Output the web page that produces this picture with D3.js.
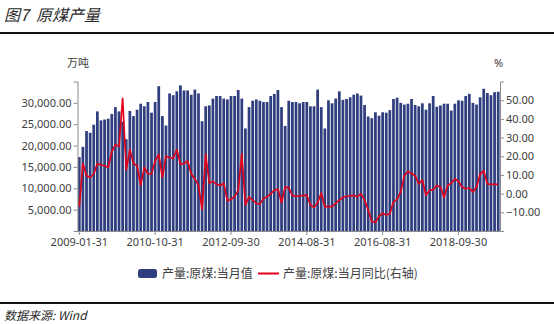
<!DOCTYPE html>
<html><head><meta charset="utf-8">
<script src="https://cdn.jsdelivr.net/npm/d3@7/dist/d3.min.js"></script>
<style>
html,body{margin:0;padding:0;background:#fff;}
svg{display:block;font-family:"Noto Sans","Noto Sans CJK SC",sans-serif;}
</style></head>
<body><svg id="c" width="554" height="324"></svg>
<script>
const dates = [
"2009-01-31","2009-02-28","2009-03-31","2009-04-30","2009-05-31","2009-06-30","2009-07-31","2009-08-31","2009-09-30","2009-10-31","2009-11-30","2009-12-31",
"2010-01-31","2010-02-28","2010-03-31","2010-04-30","2010-05-31","2010-06-30","2010-07-31","2010-08-31","2010-09-30","2010-10-31","2010-11-30","2010-12-31",
"2011-02-28","2011-03-31","2011-04-30","2011-05-31","2011-06-30","2011-07-31","2011-08-31","2011-09-30","2011-10-31","2011-11-30","2011-12-31",
"2012-02-29","2012-03-31","2012-04-30","2012-05-31","2012-06-30","2012-07-31","2012-08-31","2012-09-30","2012-10-31","2012-11-30","2012-12-31",
"2013-02-28","2013-03-31","2013-04-30","2013-05-31","2013-06-30","2013-07-31","2013-08-31","2013-09-30","2013-10-31","2013-11-30","2013-12-31",
"2014-02-28","2014-03-31","2014-04-30","2014-05-31","2014-06-30","2014-07-31","2014-08-31","2014-09-30","2014-10-31","2014-11-30","2014-12-31",
"2015-02-28","2015-03-31","2015-04-30","2015-05-31","2015-06-30","2015-07-31","2015-08-31","2015-09-30","2015-10-31","2015-11-30","2015-12-31",
"2016-03-31","2016-04-30","2016-05-31","2016-06-30","2016-07-31","2016-08-31","2016-09-30","2016-10-31","2016-11-30","2016-12-31",
"2017-03-31","2017-04-30","2017-05-31","2017-06-30","2017-07-31","2017-08-31","2017-09-30","2017-10-31","2017-11-30","2017-12-31",
"2018-03-31","2018-04-30","2018-05-31","2018-06-30","2018-07-31","2018-08-31","2018-09-30","2018-10-31","2018-11-30","2018-12-31",
"2019-03-31","2019-04-30","2019-05-31","2019-06-30","2019-07-31","2019-08-31","2019-09-30","2019-10-31"
];
const output = [
17300,19700,23400,23000,24900,28000,25900,26100,26300,27400,29000,28000,
25600,21500,28100,26900,28400,29800,29200,30200,27700,30200,33900,26900,
24700,32200,31800,32700,34100,32900,32900,31900,33100,32200,25700,
29200,29400,31000,31600,31600,31000,30800,31600,31600,33000,31000,
24000,29000,30500,30800,30500,30200,30200,31600,32100,33000,29000,
24600,30500,30200,30200,29900,30200,30200,29200,29200,33100,29000,
24000,30600,29900,31000,32700,30700,30900,31300,31900,32200,31700,
29500,26800,26400,27800,27000,27800,27700,28300,30900,31200,
30000,29600,29800,30900,29500,29200,29900,28400,29900,31600,
29100,29400,29800,29800,28200,29800,30600,30500,31600,32100,
30000,29600,31300,33300,32300,31800,32500,32600
];
const yoy = [
-7.0,16.1,9.6,8.7,10.5,16.1,15.4,14.9,14.0,22.4,26.2,25.3,
51.0,12.6,23.6,16.1,14.9,4.4,14.0,10.5,10.5,17.5,21.0,8.7,
20.1,19.2,18.9,23.6,15.7,16.1,17.5,10.5,7.9,4.4,-8.4,
21.0,5.6,6.6,4.9,4.4,5.6,-3.8,-3.1,-1.7,1.7,21.3,
-6.1,-1.7,-3.5,-5.2,-5.6,-2.6,-1.7,0.0,1.7,2.6,-4.9,
3.5,3.1,-0.9,-1.4,-1.2,-0.9,-0.9,-6.1,-7.3,-4.9,0.3,
-7.0,-7.0,-7.0,-5.2,-3.5,-2.1,-1.4,-1.2,-0.9,-1.7,0.0,
-3.5,-8.7,-14.9,-15.4,-12.2,-10.5,-11.4,-10.8,-4.4,-3.1,
0.9,9.6,11.9,10.8,9.6,5.2,7.3,-0.9,1.7,2.1,
4.4,3.5,-2.0,4.4,5.6,7.9,6.6,3.5,2.6,3.0,
0.9,3.5,10.5,12.2,5.2,4.9,4.9,4.9
];
const leftTicks = [5000,10000,15000,20000,25000,30000];
const rightTicks = [-10,0,10,20,30,40,50];
const xTickLabels = ["2009-01-31","2010-10-31","2012-09-30","2014-08-31","2016-08-31","2018-09-30"];
const legendLabels = ["产量:原煤:当月值","产量:原煤:当月同比(右轴)"];

const svg = d3.select("#c");
const barColor = "#2f3e7e", lineColor = "#e2001a", axisColor = "#8c8c8c", textColor = "#404040";

const x = d3.scaleBand().domain(dates).range([77.5, 500]).paddingInner(0.24).paddingOuter(0.12);
const yL = d3.scaleLinear().domain([0, 35000]).range([231, 81.5]);
const yR = d3.scaleLinear().domain([-20, 60]).range([231, 81.5]);

// title
svg.append("text").attr("x", 4).attr("y", 21).attr("font-size", 16).attr("font-style", "italic")
  .attr("font-family", "'Noto Sans CJK SC'").attr("fill", "#2a2a2a").text("图7\u00a0\u00a0原煤产量");
svg.append("line").attr("x1", 0).attr("x2", 554).attr("y1", 33).attr("y2", 33).attr("stroke", "#111").attr("stroke-width", 2);
svg.append("line").attr("x1", 0).attr("x2", 554).attr("y1", 303).attr("y2", 303).attr("stroke", "#111").attr("stroke-width", 2);
svg.append("text").attr("x", 4).attr("y", 320).attr("font-size", 12).attr("font-style", "italic")
  .attr("font-family", "'Noto Sans CJK SC'").attr("fill", "#2a2a2a").text("数据来源:\u00a0Wind");

// unit labels
svg.append("text").attr("x", 67).attr("y", 67).attr("font-size", 11).attr("fill", textColor)
  .attr("font-family", "'Noto Sans CJK SC'").text("万吨");
svg.append("text").attr("x", 494).attr("y", 67).attr("font-size", 11).attr("fill", textColor).text("%");

// bars
svg.append("g").selectAll("rect").data(output).join("rect")
  .attr("x", (d, i) => x(dates[i]))
  .attr("width", x.bandwidth())
  .attr("y", d => yL(d))
  .attr("height", d => yL(0) - yL(d))
  .attr("fill", barColor);

// axes
const fmt = d3.format(",.2f");
const gL = svg.append("g").attr("transform", "translate(77.5,0)")
  .call(d3.axisLeft(yL).tickValues(leftTicks).tickFormat(fmt).tickSizeOuter(0).tickSize(4).tickPadding(2));
const gR = svg.append("g").attr("transform", "translate(500,0)")
  .call(d3.axisRight(yR).tickValues(rightTicks).tickFormat(fmt).tickSizeOuter(0).tickSize(4).tickPadding(2));
const gB = svg.append("g").attr("transform", "translate(0,231)")
  .call(d3.axisBottom(x).tickValues(xTickLabels).tickSizeOuter(0).tickSize(4).tickPadding(3));
gB.select(".domain").attr("d", "M77.5,0.5H500");
[gL, gR, gB].forEach(g => {
  g.select(".domain").attr("stroke", axisColor);
  g.selectAll(".tick line").attr("stroke", axisColor);
  g.selectAll(".tick text").attr("fill", textColor).attr("font-size", 11).attr("font-family", "'Noto Sans'");
});

// line
const line = d3.line().x((d, i) => x(dates[i]) + x.bandwidth() / 2).y(d => yR(d));
svg.append("path").datum(yoy).attr("d", line).attr("fill", "none")
  .attr("stroke", lineColor).attr("stroke-width", 1.7).attr("stroke-linejoin", "round");

// legend
const lg = svg.append("g");
lg.append("rect").attr("x", 138).attr("y", 269).attr("width", 19).attr("height", 9).attr("rx", 2.5).attr("fill", barColor);
lg.append("text").attr("x", 162).attr("y", 278).attr("font-size", 12).attr("fill", textColor)
  .attr("font-family", "'Noto Sans CJK SC'").text(legendLabels[0]);
lg.append("line").attr("x1", 258).attr("x2", 279).attr("y1", 273.5).attr("y2", 273.5).attr("stroke", lineColor).attr("stroke-width", 2);
lg.append("text").attr("x", 283).attr("y", 278).attr("font-size", 12).attr("fill", textColor)
  .attr("font-family", "'Noto Sans CJK SC'").text(legendLabels[1]);
</script></body></html>
